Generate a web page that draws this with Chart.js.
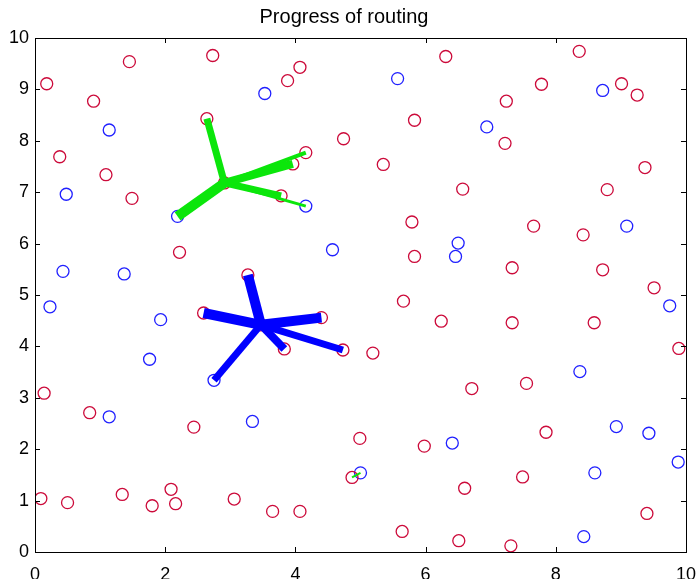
<!DOCTYPE html>
<html lang="en">
<head>
<meta charset="UTF-8">
<title>Progress of routing</title>
<script src="https://cdn.jsdelivr.net/npm/chart.js"></script>
<style>
    body { margin: 0; background: #fff; }
    #wrap { width: 700px; height: 579px; }
</style>
</head>
<body>
<div id="wrap"><canvas id="routing" width="700" height="579"></canvas></div>
<script>
// nodes
const redX = [0.18, 1.45, 2.73, 4.07, 3.88, 0.90, 2.64, 0.38, 1.09, 1.49, 4.16, 3.96, 3.78, 2.91, 2.22, 3.27, 4.74,
    6.31, 8.36, 7.78, 9.01, 9.25, 7.24, 5.83, 7.22, 5.35, 9.37, 6.57, 8.79, 5.79, 7.66, 8.42, 5.83, 7.33, 8.72, 9.51,
    2.59, 4.40, 3.83, 4.73, 0.14, 0.84, 2.44, 0.09, 0.50, 1.34, 2.09, 1.80, 2.16, 3.06, 3.65, 4.07,
    5.66, 6.24, 7.33, 8.59, 5.19, 9.89, 6.71, 7.55, 4.99, 5.98, 7.85, 7.49, 6.60, 9.40, 5.64, 6.51, 7.31, 4.87, 3.47];
const redY = [9.11, 9.54, 9.66, 9.43, 9.17, 8.77, 8.43, 7.69, 7.34, 6.88, 7.77, 7.55, 6.93, 7.18, 5.83, 5.39, 8.04,
    9.64, 9.74, 9.10, 9.11, 8.89, 8.77, 8.40, 7.95, 7.54, 7.48, 7.06, 7.05, 6.42, 6.34, 6.17, 5.75, 5.53, 5.49, 5.14,
    4.65, 4.56, 3.95, 3.93, 3.09, 2.71, 2.43, 1.04, 0.96, 1.12, 1.22, 0.90, 0.94, 1.03, 0.79, 0.79,
    4.88, 4.49, 4.46, 4.46, 3.87, 3.96, 3.18, 3.28, 2.21, 2.06, 2.33, 1.46, 1.24, 0.75, 0.40, 0.22, 0.12, 1.45, 4.42];

const blueX = [1.14, 0.48, 3.53, 2.19, 4.16, 4.57, 0.43, 1.37, 5.57, 8.72, 6.94, 9.09, 6.50, 6.46, 0.23, 1.93, 1.76,
    2.75, 1.14, 3.34, 9.75, 8.37, 8.93, 9.43, 6.41, 9.88, 5.00, 8.60, 8.43];
const blueY = [8.21, 6.96, 8.92, 6.53, 6.73, 5.88, 5.46, 5.41, 9.21, 8.98, 8.27, 6.34, 6.01, 5.75, 4.77, 4.52, 3.75,
    3.34, 2.63, 2.54, 4.79, 3.51, 2.44, 2.31, 2.12, 1.75, 1.54, 1.54, 0.30];

// routing links: hub -> targets, with link weight
const greenHub = [2.91, 7.18];
const greenToX = [2.64, 2.19, 3.96, 4.16, 3.78, 4.16];
const greenToY = [8.43, 6.53, 7.55, 7.77, 6.93, 6.73];
const greenWeight = [7, 10, 8, 4, 7, 3];

const blueHub = [3.47, 4.42];
const blueToX = [3.27, 2.59, 4.40, 4.73, 3.83, 2.75];
const blueToY = [5.39, 4.65, 4.56, 3.93, 3.95, 3.34];
const blueWeight = [10, 10, 10, 7, 8, 7];

// the short link near (4.9, 1.5)
const smallLinkX = [4.87, 5.00];
const smallLinkY = [1.45, 1.54];

const xTicks = [0, 2, 4, 6, 8, 10];
const yTicks = [0, 1, 2, 3, 4, 5, 6, 7, 8, 9, 10];

const GREEN = '#0be60b';
const BLUE = '#0000ff';

function toPoints(xs, ys) {
    return xs.map((x, i) => ({ x: x, y: ys[i] }));
}

function linkSets(hub, tx, ty, weights, color) {
    return tx.map((x, i) => ({
        type: 'line',
        data: [{ x: hub[0], y: hub[1] }, { x: x, y: ty[i] }],
        borderColor: color,
        borderWidth: weights[i],
        borderCapStyle: 'butt',
        pointRadius: 0,
        showLine: true,
        fill: false
    }));
}

const datasets = [
    ...linkSets(greenHub, greenToX, greenToY, greenWeight, GREEN),
    ...linkSets(blueHub, blueToX, blueToY, blueWeight, BLUE),
    {
        type: 'line',
        data: toPoints(smallLinkX, smallLinkY),
        borderColor: GREEN,
        borderWidth: 2,
        pointRadius: 0,
        showLine: true,
        fill: false
    },
    {
        data: toPoints(redX, redY),
        pointStyle: 'circle',
        pointRadius: 6,
        pointBorderWidth: 1.3,
        pointBorderColor: '#cc0a3a',
        pointBackgroundColor: 'rgba(0,0,0,0)',
        showLine: false
    },
    {
        data: toPoints(blueX, blueY),
        pointStyle: 'circle',
        pointRadius: 6,
        pointBorderWidth: 1.3,
        pointBorderColor: '#2020ff',
        pointBackgroundColor: 'rgba(0,0,0,0)',
        showLine: false
    }
];

// MATLAB style box with inward ticks on all four sides
const boxPlugin = {
    id: 'box',
    afterDraw(chart) {
        const { ctx, chartArea: a, scales } = chart;
        const len = 5;
        ctx.save();
        ctx.strokeStyle = '#000';
        ctx.lineWidth = 1;
        ctx.beginPath();
        xTicks.forEach(v => {
            const px = Math.round(scales.x.getPixelForValue(v)) + 0.5;
            ctx.moveTo(px, a.bottom); ctx.lineTo(px, a.bottom - len);
            ctx.moveTo(px, a.top); ctx.lineTo(px, a.top + len);
        });
        yTicks.forEach(v => {
            const py = Math.round(scales.y.getPixelForValue(v)) + 0.5;
            ctx.moveTo(a.left, py); ctx.lineTo(a.left + len, py);
            ctx.moveTo(a.right, py); ctx.lineTo(a.right - len, py);
        });
        ctx.stroke();
        ctx.strokeRect(Math.round(a.left) + 0.5, Math.round(a.top) + 0.5,
            Math.round(a.right - a.left), Math.round(a.bottom - a.top));
        ctx.restore();
    }
};

Chart.defaults.font.family = "'Liberation Sans', Arial, sans-serif";
Chart.defaults.color = '#000';

new Chart(document.getElementById('routing'), {
    type: 'scatter',
    data: { datasets: datasets },
    options: {
        responsive: false,
        animation: false,
        layout: { padding: { left: 0, right: 12, top: 0, bottom: 0 } },
        plugins: {
            legend: { display: false },
            tooltip: { enabled: false },
            title: {
                display: true,
                text: 'Progress of routing',
                font: { size: 20, weight: 'normal', lineHeight: 1.2 },
                padding: { top: 5, bottom: 9 }
            }
        },
        scales: {
            x: {
                type: 'linear',
                min: 0, max: 10,
                grid: { display: false },
                border: { display: false },
                ticks: { stepSize: 2, font: { size: 18 }, padding: 4, maxRotation: 0 },
                afterFit(scale) { scale.height = 27; }
            },
            y: {
                type: 'linear',
                min: 0, max: 10,
                grid: { display: false, drawTicks: false },
                border: { display: false },
                ticks: { stepSize: 1, font: { size: 18 }, padding: 6 },
                afterFit(scale) { scale.width = 35; }
            }
        }
    },
    plugins: [boxPlugin]
});
</script>
</body>
</html>
